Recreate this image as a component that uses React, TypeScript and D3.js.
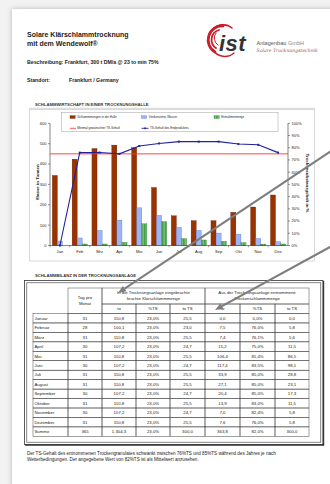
import React from "react";
import * as d3 from "d3";

const months = ["Jan", "Feb", "Mrz", "Apr", "Mai", "Jun", "Jul", "Aug", "Sep", "Okt", "Nov", "Dez"];
const hallMass = [344, 424, 476, 493, 481, 285, 146, 122, 122, 163, 189, 248];
const evaporated = [22, 37, 74, 125, 185, 148, 89, 74, 61, 56, 35, 19];
const removed = [0, 7.5, 7.4, 15.2, 106.4, 117.4, 33.9, 27.1, 20.4, 13.9, 7.0, 7.6];
const productTS = [0, 76.0, 76.1, 75.0, 81.4, 83.5, 85.0, 85.0, 85.0, 83.0, 82.4, 76.0];
const minTS = 75;
const leftTicks = [0, 100, 200, 300, 400, 500, 600];
const rightTicks = [0, 10, 20, 30, 40, 50, 60, 70, 80, 90, 100];
const seriesNames = ["Schlammmengen in der Halle", "Verdunstetes Wasser", "Entnahmemenge"];
const lineNames = ["Minimal gewünschter TS-Gehalt", "TS-Gehalt des Endproduktes"];

const rowNames = ["Januar", "Februar", "März", "April", "Mai", "Juni", "Juli", "August", "September", "Oktober", "November", "Dezember", "Summe"];
const daysCol = ["31", "28", "31", "30", "31", "30", "31", "31", "30", "31", "30", "31", "365"];
const inTo = ["110,8", "100,1", "110,8", "107,2", "110,8", "107,2", "110,8", "110,8", "107,2", "110,8", "107,2", "110,8", "1.304,3"];
const inPct = ["23,0%", "23,0%", "23,0%", "23,0%", "23,0%", "23,0%", "23,0%", "23,0%", "23,0%", "23,0%", "23,0%", "23,0%", "23,0%"];
const inToTS = ["25,5", "23,0", "25,5", "24,7", "25,5", "24,7", "25,5", "25,5", "24,7", "25,5", "24,7", "25,5", "300,0"];
const outTo = ["0,0", "7,5", "7,4", "15,2", "106,4", "117,4", "33,9", "27,1", "20,4", "13,9", "7,0", "7,6", "363,8"];
const outPct = ["0,0%", "76,0%", "76,1%", "75,0%", "81,4%", "83,5%", "85,0%", "85,0%", "85,0%", "83,0%", "82,4%", "76,0%", "82,0%"];
const outToTS = ["0,0", "5,8", "5,6", "11,5", "86,5", "98,1", "28,8", "23,1", "17,3", "11,5", "5,8", "5,8", "300,0"];

const FONT = "'Liberation Sans', Arial, Helvetica, sans-serif";
const colors = ["#993300", "#9db5f5", "#55a855"];
const strokes = ["#5a1e00", "#4d66b8", "#1f6b1f"];

export default function App() {
  React.useEffect(() => {
    document.body.style.margin = "0";
  }, []);

  // chart scales
  const x = d3.scaleBand<string>().domain(months).range([50, 288]).paddingInner(0).paddingOuter(0);
  const xs = d3.scaleBand<number>().domain([0, 1, 2]).range([0, x.bandwidth()]).paddingOuter(0.45).paddingInner(0);
  const y = d3.scaleLinear().domain([0, 600]).range([245.5, 123.3]);
  const y2 = d3.scaleLinear().domain([0, 100]).range([245.5, 123.3]);
  const series = [hallMass, evaporated, removed];
  const linePath = d3
    .line<number>()
    .x((_, i) => (x(months[i]) as number) + x.bandwidth() / 2)
    .y((d) => y2(d))(productTS) as string;

  // table scales
  const colEdges = [33, 68, 102, 136, 170, 205, 240, 275, 309];
  const rowTop = 313.5;
  const rowH = 9.45;
  const rowY = d3.scaleLinear().domain([0, rowNames.length]).range([rowTop, rowTop + rowH * rowNames.length]);
  const cols = [daysCol, inTo, inPct, inToTS, outTo, outPct, outToTS];

  const arrow = (x1: number, y1: number, x2: number, y2p: number) => {
    const ang = Math.atan2(y2p - y1, x2 - x1);
    const L = 8, W = 3.2;
    const bx = x2 - L * Math.cos(ang), by = y2p - L * Math.sin(ang);
    const px = -Math.sin(ang) * W, py = Math.cos(ang) * W;
    return (
      <g>
        <line x1={x1} y1={y1} x2={bx} y2={by} stroke="#7d7d7d" strokeWidth={2} />
        <path d={`M${x2},${y2p}L${bx + px},${by + py}L${bx - px},${by - py}Z`} fill="#7d7d7d" />
      </g>
    );
  };

  return (
    <div style={{ position: "absolute", left: 0, top: 0 }}>
      <svg width={330} height={484} viewBox="0 0 330 484" style={{ display: "block", fontFamily: FONT }}>
        <defs>
          <filter id="sh" x="-5%" y="-5%" width="110%" height="110%">
            <feDropShadow dx="0" dy="0" stdDeviation="2.5" floodColor="#000" floodOpacity="0.25" />
          </filter>
          <pattern id="stripe" width="1.5" height="4" patternUnits="userSpaceOnUse">
            <rect width="1.5" height="4" fill="#7cc97c" />
            <rect width="0.6" height="4" fill="#2f8a2f" />
          </pattern>
        </defs>
        <rect x={0} y={0} width={330} height={484} fill="#f2f2f2" />
        <rect x={12} y={9} width={330} height={490} fill="#fff" filter="url(#sh)" />

        {/* Header */}
        <text x={27} y={37} fontSize={7} fontWeight="bold" fill="#222">Solare Klärschlammtrocknung</text>
        <text x={27} y={45.5} fontSize={7} fontWeight="bold" fill="#222">mit dem Wendewolf®</text>
        <text x={27} y={64} fontSize={5.2} fontWeight="bold" fill="#222">Beschreibung: Frankfurt, 300 t DM/a @ 23 to min 75%</text>
        <text x={27} y={82} fontSize={5.2} fontWeight="bold" fill="#222">Standort:</text>
        <text x={69} y={82} fontSize={5.2} fontWeight="bold" fill="#222">Frankfurt / Germany</text>

        {/* Logo */}
        <g fill="none" stroke="#c8202a" strokeLinecap="round">
          <path d="M223,26 A14,14 0 0 0 215,52" strokeWidth={2.8} />
          <path d="M219,30 A10,10 0 0 0 216,48" strokeWidth={1.8} />
          <path d="M227,25.5 A15,15 0 0 0 209,45" strokeWidth={1.3} />
          <path d="M232,28 A14,14 0 0 0 213,29" strokeWidth={1.6} />
          <path d="M213,50 A14,14 0 0 0 234,53" strokeWidth={1.4} />
          <path d="M216,33 A8,8 0 0 0 218,45" strokeWidth={1.0} />
        </g>
        <text x={219} y={51} fontSize={22} fontWeight="bold" fontStyle="italic" fill="#333" letterSpacing={0.5}>ist</text>
        <text x={256.5} y={45.2} fontSize={5.6} fill="#555">Anlagenbau <tspan fill="#888">GmbH</tspan></text>
        <text x={256.5} y={51.5} fontSize={4.6} fontStyle="italic" fill="#a05050" fontFamily="'DejaVu Serif', serif">Solare Trocknungstechnik</text>

        {/* Chart section */}
        <text x={35} y={106} fontSize={4.2} fontWeight="bold" fill="#333">SCHLAMMWIRTSCHAFT  IN EINER TROCKNUNGSHALLE</text>
        <line x1={29} x2={315} y1={108.3} y2={108.3} stroke="#aaa" strokeWidth={0.5} />
        <rect x={29.5} y={109.5} width={285} height={151.5} fill="#fff" stroke="#c0c0c0" strokeWidth={0.6} />

        {/* Legend */}
        <rect x={61.5} y={112.3} width={216.5} height={19.4} fill="#fff" stroke="#888" strokeWidth={0.4} />
        {[0, 1, 2].map((k) => {
          const lx = [70, 141.5, 214][k];
          return (
            <g key={k}>
              <rect x={lx} y={115.7} width={5.2} height={2.8} fill={k === 2 ? "url(#stripe)" : colors[k]} stroke={strokes[k]} strokeWidth={0.3} />
              <text x={lx + 7.3} y={118.2} fontSize={3} fill="#222">{seriesNames[k]}</text>
            </g>
          );
        })}
        <line x1={70} x2={76} y1={128.3} y2={128.3} stroke="#ff3333" strokeWidth={0.8} />
        <text x={77.3} y={129.4} fontSize={3} fill="#222">{lineNames[0]}</text>
        <line x1={141.5} x2={148.5} y1={128.3} y2={128.3} stroke="#22229a" strokeWidth={0.9} />
        <rect x={144.2} y={127.5} width={1.6} height={1.6} fill="#22229a" />
        <text x={150} y={129.4} fontSize={3} fill="#222">{lineNames[1]}</text>

        {/* Bars */}
        {series.map((vals, k) =>
          vals.map((v, i) => (
            <rect
              key={`${k}-${i}`}
              x={(x(months[i]) as number) + (xs(k) as number)}
              y={y(v)}
              width={xs.bandwidth()}
              height={y(0) - y(v)}
              fill={k === 2 ? "url(#stripe)" : colors[k]}
              stroke={strokes[k]}
              strokeWidth={0.3}
            />
          ))
        )}

        {/* Axes */}
        <line x1={50} x2={50} y1={123.3} y2={245.5} stroke="#333" strokeWidth={0.6} />
        <line x1={288} x2={288} y1={123.3} y2={245.5} stroke="#333" strokeWidth={0.6} />
        <line x1={50} x2={288} y1={245.5} y2={245.5} stroke="#333" strokeWidth={0.6} />
        {leftTicks.map((t) => (
          <g key={t}>
            <line x1={48} x2={50} y1={y(t)} y2={y(t)} stroke="#333" strokeWidth={0.5} />
            <text x={46.5} y={y(t) + 1.4} fontSize={4} textAnchor="end" fill="#222">{t}</text>
          </g>
        ))}
        {rightTicks.map((t) => (
          <g key={t}>
            <line x1={288} x2={290} y1={y2(t)} y2={y2(t)} stroke="#333" strokeWidth={0.5} />
            <text x={291.5} y={y2(t) + 1.4} fontSize={4} fill="#222">{t}%</text>
          </g>
        ))}
        {months.map((m) => (
          <g key={m}>
            <line x1={x(m) as number} x2={x(m) as number} y1={245.5} y2={247.3} stroke="#333" strokeWidth={0.5} />
            <text x={(x(m) as number) + x.bandwidth() / 2} y={252.6} fontSize={4.1} textAnchor="middle" fill="#222">{m}</text>
          </g>
        ))}
        <text transform="translate(38.5,182) rotate(-90)" fontSize={4.4} fontWeight="bold" textAnchor="middle" fill="#222">Masse in Tonnen</text>
        <text transform="translate(305.5,183) rotate(90)" fontSize={4.4} fontWeight="bold" textAnchor="middle" fill="#222">Trockensubstanzgehalt in %</text>

        {/* Lines */}
        <line x1={50} x2={288} y1={y2(minTS)} y2={y2(minTS)} stroke="#ff3333" strokeWidth={0.9} />
        <path d={linePath} fill="none" stroke="#22229a" strokeWidth={1.1} />
        {productTS.map((v, i) => (
          <rect key={i} x={(x(months[i]) as number) + x.bandwidth() / 2 - 1} y={y2(v) - 1} width={2} height={2} fill="#22229a" />
        ))}

        {/* Table section */}
        <text x={35} y={276.5} fontSize={4.2} fontWeight="bold" fill="#333">SCHLAMMBILANZ  IN DER TROCKNUNGSANLAGE</text>
        <rect x={24.5} y={280.5} width={298.5} height={164} fill="none" stroke="#333" strokeWidth={0.8} />
        <rect x={26.8} y={282.8} width={294} height={159.4} fill="none" stroke="#333" strokeWidth={0.6} />
        <line x1={323.5} x2={323.5} y1={281} y2={445.5} stroke="#333" strokeWidth={1.4} />
        <line x1={25} x2={324} y1={445} y2={445} stroke="#333" strokeWidth={1.4} />

        <g stroke="#444" strokeWidth={0.5} fill="none">
          <rect x={colEdges[1]} y={288} width={colEdges[2] - colEdges[1]} height={rowTop - 288} />
          <rect x={colEdges[2]} y={288} width={colEdges[5] - colEdges[2]} height={304 - 288} />
          <rect x={colEdges[5]} y={288} width={colEdges[8] - colEdges[5]} height={304 - 288} />
          {[2, 3, 4, 5, 6, 7].map((c) => (
            <rect key={c} x={colEdges[c]} y={304} width={colEdges[c + 1] - colEdges[c]} height={rowTop - 304} />
          ))}
          {rowNames.map((_, r) =>
            colEdges.slice(0, 8).map((cx, c) => (
              <rect key={`${r}-${c}`} x={cx} y={rowY(r)} width={colEdges[c + 1] - cx} height={rowH} />
            ))
          )}
        </g>
        <g fontSize={4.3} fill="#222">
          <text x={(colEdges[1] + colEdges[2]) / 2} y={298.5} textAnchor="middle">Tag pro</text>
          <text x={(colEdges[1] + colEdges[2]) / 2} y={304.5} textAnchor="middle">Monat</text>
          <text x={(colEdges[2] + colEdges[5]) / 2} y={294} textAnchor="middle">In die Trocknungsanlage eingebrachte</text>
          <text x={(colEdges[2] + colEdges[5]) / 2} y={300} textAnchor="middle">feuchte Klärschlammmenge</text>
          <text x={(colEdges[5] + colEdges[8]) / 2} y={294} textAnchor="middle">Aus der Trocknungsanlage entnommene</text>
          <text x={(colEdges[5] + colEdges[8]) / 2} y={300} textAnchor="middle">Trockenschlammmenge</text>
          {["to", "%TS", "to TS", "to", "%TS", "to TS"].map((h, i) => (
            <text key={i} x={(colEdges[i + 2] + colEdges[i + 3]) / 2} y={310.3} textAnchor="middle">{h}</text>
          ))}
          {rowNames.map((n, r) => (
            <g key={n}>
              <text x={colEdges[0] + 1.5} y={rowY(r) + rowH / 2 + 1.5}>{n}</text>
              {cols.map((col, c) => (
                <text key={c} x={(colEdges[c + 1] + colEdges[c + 2]) / 2} y={rowY(r) + rowH / 2 + 1.5} textAnchor="middle">{col[r]}</text>
              ))}
            </g>
          ))}
        </g>

        {/* Footer */}
        <text x={27} y={455} fontSize={4.6} fill="#222">Der TS-Gehalt des entnommenen Trockengranulates schwankt zwischen 76%TS und 85%TS während des Jahres je nach</text>
        <text x={27} y={461} fontSize={4.6} fill="#222">Wetterbedingungen. Der angegebene Wert von 82%TS ist als Mittelwert anzusehen.</text>

        {/* Callout arrows */}
        {arrow(336, 147.7, 118, 293)}
        {arrow(336, 243.7, 215, 310)}
      </svg>
    </div>
  );
}
